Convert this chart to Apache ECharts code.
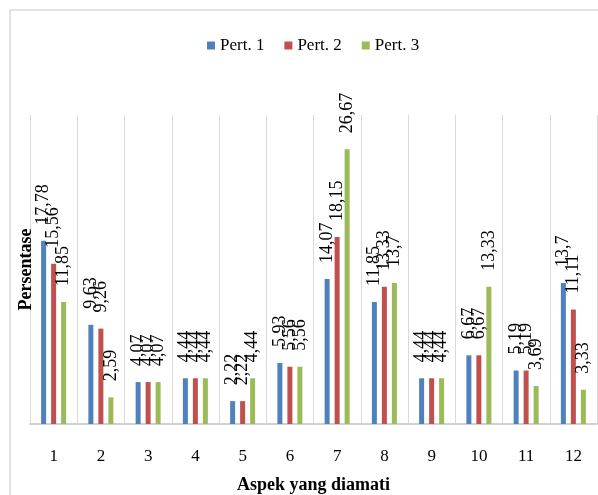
<!DOCTYPE html>
<html>
	<head>
		<meta charset="UTF-8">
		<title>Persentase per aspek</title>
		<script type="text/javascript" src="https://cdn.jsdelivr.net/npm/echarts@6/dist/echarts.min.js"></script>
		<style>
			html, body { margin: 0; padding: 0; background: #fff; }
			#main { width: 598px; height: 495px; }
		</style>
	</head>
	<body>
		<div id="main"></div>
		<script type="text/javascript">
			// data
			var aspek = ['1', '2', '3', '4', '5', '6', '7', '8', '9', '10', '11', '12'];
			var pert1 = [17.78, 9.63, 4.07, 4.44, 2.22, 5.93, 14.07, 11.85, 4.44, 6.67, 5.19, 13.7];
			var pert2 = [15.56, 9.26, 4.07, 4.44, 2.22, 5.56, 18.15, 13.33, 4.44, 6.67, 5.19, 11.11];
			var pert3 = [11.85, 2.59, 4.07, 4.44, 4.44, 5.56, 26.67, 13.7, 4.44, 13.33, 3.69, 3.33];
			var namaSeri = ['Pert. 1', 'Pert. 2', 'Pert. 3'];
			var warna = ['#4f81bd', '#c0504d', '#9bbb59'];

			var serif = "'Liberation Serif', 'Times New Roman', serif";

			var myChart = echarts.init(document.getElementById('main'));

			function buatSeri(nama, data, i) {
				return {
					name: nama,
					type: 'bar',
					data: data,
					barWidth: 5,
					barGap: '100%',
					itemStyle: { color: warna[i] },
					label: {
						show: true,
						position: 'top',
						distance: 16,
						rotate: 90,
						align: 'left',
						verticalAlign: 'middle',
						fontFamily: serif,
						fontSize: 18,
						color: '#000',
						formatter: function (p) {
							return String(p.value).replace('.', ',');
						}
					}
				};
			}

			var option = {
				animation: false,
				backgroundColor: '#fff',
				textStyle: { fontFamily: serif },
				legend: {
					data: namaSeri,
					top: 32,
					left: 202,
					icon: 'rect',
					itemWidth: 8,
					itemHeight: 8,
					itemGap: 20,
					textStyle: { fontFamily: serif, fontSize: 17, color: '#000' }
				},
				graphic: [
					{
						type: 'rect',
						silent: true,
						shape: { x: 10, y: 10, width: 600, height: 500 },
						style: { fill: 'none', stroke: '#d9d9d9', lineWidth: 1.5 }
					}
				],
				grid: {
					left: 30,
					right: 1,
					top: 115,
					bottom: 71,
					outerBoundsMode: 'none'
				},
				xAxis: {
					type: 'category',
					data: aspek,
					name: 'Aspek yang diamati',
					nameLocation: 'middle',
					nameGap: 52,
					nameTextStyle: { fontFamily: serif, fontSize: 18, fontWeight: 'bold', color: '#000' },
					axisLine: { lineStyle: { color: '#d0d0d0', width: 2 } },
					axisTick: { show: false },
					axisLabel: { margin: 24, fontFamily: serif, fontSize: 17, color: '#000' },
					splitLine: { show: true, interval: 0, lineStyle: { color: '#d9d9d9', width: 1 } }
				},
				yAxis: {
					type: 'value',
					min: 0,
					max: 30,
					name: 'Persentase',
					nameLocation: 'middle',
					nameGap: -5,
					nameTextStyle: { fontFamily: serif, fontSize: 18, fontWeight: 'bold', color: '#000' },
					axisLine: { show: false },
					axisTick: { show: false },
					axisLabel: { show: false },
					splitLine: { show: false }
				},
				series: [
					buatSeri(namaSeri[0], pert1, 0),
					buatSeri(namaSeri[1], pert2, 1),
					buatSeri(namaSeri[2], pert3, 2)
				]
			};

			myChart.setOption(option);
		</script>
	</body>
</html>
